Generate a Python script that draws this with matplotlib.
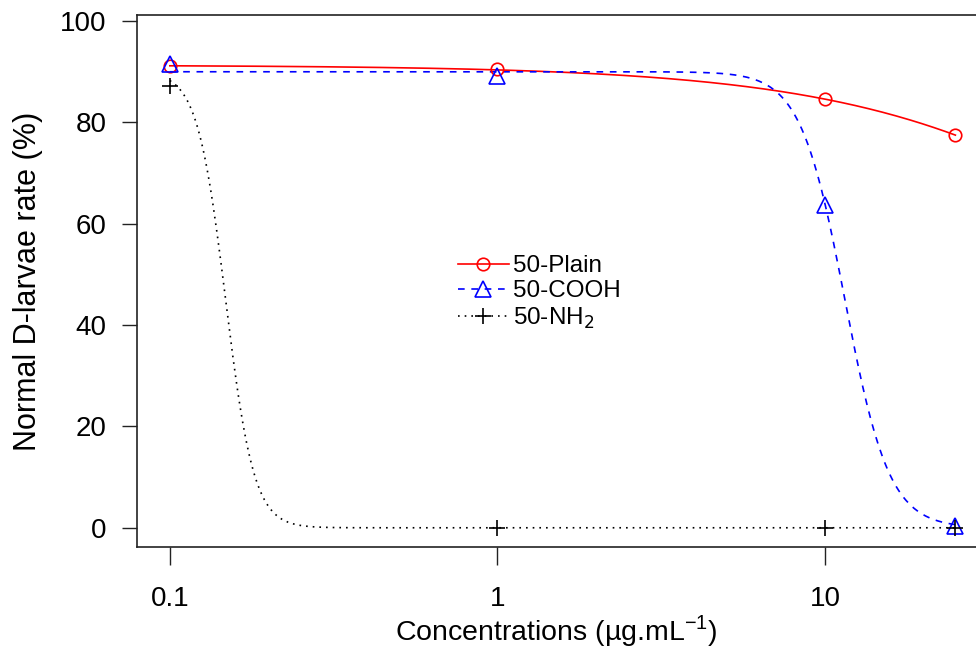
import numpy as np
import matplotlib
matplotlib.use("Agg")
import matplotlib.pyplot as plt

plt.rcParams['font.family'] = ['Liberation Sans', 'DejaVu Sans']

# observed doses and responses
doses = [0.1, 1, 10, 25]
plain = [91.2, 90.5, 84.6, 77.5]
cooh = [91.5, 89.2, 63.8, 0.3]
nh2 = [87.2, 0.0, 0.0, 0.0]

labels = ['50-Plain', '50-COOH', '50-NH$_2$']

# log-logistic (LL.3) fit parameters: upper, slope, ED50
fit_d = [91.3, 90.0, 90.0]
fit_b = [0.884, 6.4, 10.0]
fit_e = [176.0, 11.5, 0.148]

colors = ['#ff0000', '#0000ff', '#000000']
markers = ['o', '^', '+']
styles = ['-', (0, (4, 4)), (0, (1, 3))]


def ll3(x, d, b, e):
    return d / (1 + np.exp(b * (np.log(x) - np.log(e))))


fig = plt.figure(figsize=(9.76, 6.52), dpi=100)
ax = fig.add_axes([0.1404, 0.161, 0.8596, 0.816])

xs = np.logspace(np.log10(doses[0]), np.log10(doses[-1]), 400)
series = [plain, cooh, nh2]
for i in range(3):
    ax.plot(xs, ll3(xs, fit_d[i], fit_b[i], fit_e[i]), color=colors[i],
            ls=styles[i], lw=1.2, zorder=2)
    ms = 9 if markers[i] == 'o' else 11
    ax.plot(doses, series[i], ls='none', marker=markers[i], ms=ms,
            mfc='none', mec=colors[i], mew=1.2, zorder=3)

# legend handles
handles = []
for i in range(3):
    ms = 9 if markers[i] == 'o' else 11
    h, = ax.plot([], [], color=colors[i], ls=styles[i], lw=1.2,
                 marker=markers[i], ms=ms, mfc='none', mec=colors[i], mew=1.2)
    handles.append(h)
ax.legend(handles, labels, frameon=False, fontsize=17.5,
          loc='upper left', bbox_to_anchor=(0.382, 0.548),
          handlelength=2.1, handletextpad=0.2, labelspacing=0.12,
          borderaxespad=0, borderpad=0)

ax.set_xscale('log')
ax.set_xlim(0.0794, 28.9)
ax.set_ylim(-3.8, 101.2)
ax.set_xticks([0.1, 1, 10])
ax.set_xticklabels(['0.1', '1', '10'])
ax.minorticks_off()
ax.set_yticks([0, 20, 40, 60, 80, 100])

ax.spines['right'].set_visible(False)
for s in ['left', 'bottom', 'top']:
    ax.spines[s].set_linewidth(1.2)
    ax.spines[s].set_color('#222222')
ax.tick_params(axis='both', labelsize=20, width=1.0, color='#222222',
               direction='out')
ax.tick_params(axis='y', length=11, pad=11)
ax.tick_params(axis='x', length=13, pad=15)

ax.set_xlabel('Concentrations (µg.mL$^{\\mathregular{-1}}$)', fontsize=20.5, labelpad=1)
ax.set_ylabel('Normal D-larvae rate (%)', fontsize=22, labelpad=12)

fig.savefig('out.png', dpi=100)
